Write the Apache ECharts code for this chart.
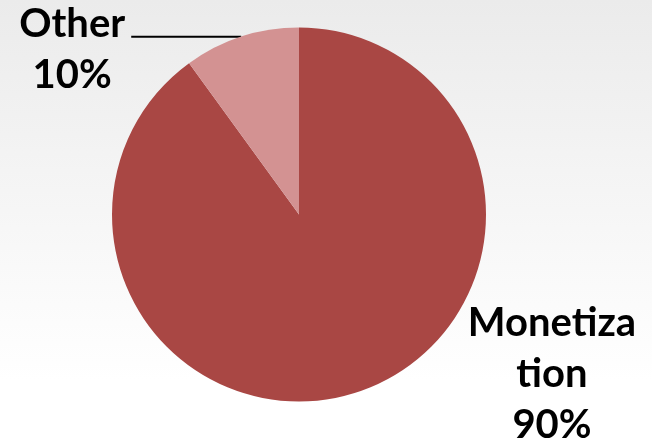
<!DOCTYPE html>
<html>
<head>
<meta charset="utf-8">
<script src="https://cdn.jsdelivr.net/npm/echarts@6/dist/echarts.min.js"></script>
<style>
  html, body { margin: 0; padding: 0; }
  #chart { width: 652px; height: 448px; }
</style>
</head>
<body>
<div id="chart"></div>
<script>
// Revenue split
const categories = ['Monetization', 'Other'];
const labelNames = ['Monetiza\ntion', 'Other'];
const values = [90, 10];
const colors = ['#A94744', '#D39292'];

const chart = echarts.init(document.getElementById('chart'), null, { renderer: 'canvas' });

const labelFont = {
  fontFamily: 'Lato',
  fontWeight: 'bold',
  fontSize: 40,
  lineHeight: 51,
  color: '#000000'
};

const data = categories.map((name, i) => ({
  name: name,
  value: values[i],
  itemStyle: { color: colors[i] }
}));

// Monetization: no leader line, label block sits lower right of the pie
data[0].labelLine = { show: false };
data[0].label = {
  formatter: p => labelNames[0] + '\n' + p.percent + '%',
  align: 'center',
  ...labelFont
};

// Other: horizontal leader line, two centred lines
data[1].label = {
  formatter: p => '{n|' + labelNames[1] + '}\n{n|' + p.percent + '%}',
  padding: [26, 0, 0, 0],
  rich: { n: { ...labelFont, width: 108, align: 'center' } }
};

chart.setOption({
  backgroundColor: {
    type: 'linear', x: 0, y: 0, x2: 0, y2: 1,
    colorStops: [
      { offset: 0, color: '#EBEBEB' },
      { offset: 0.85, color: '#FFFFFF' },
      { offset: 1, color: '#FFFFFF' }
    ]
  },
  animation: false,
  series: [{
    type: 'pie',
    center: [299, 214.5],
    radius: 187,
    startAngle: 90,
    clockwise: true,
    avoidLabelOverlap: false,
    data: data,
    label: {
      show: true,
      position: 'outside',
      distanceToLabelLine: 5
    },
    labelLine: {
      show: true,
      length: 0,
      length2: 110,
      smooth: false,
      lineStyle: { color: '#000000', width: 2 }
    },
    labelLayout: function (params) {
      if (params.dataIndex === 0) {
        return { x: 552, y: 374, align: 'center', verticalAlign: 'middle' };
      }
      return {};
    },
    emphasis: { disabled: true }
  }]
});
</script>
</body>
</html>
